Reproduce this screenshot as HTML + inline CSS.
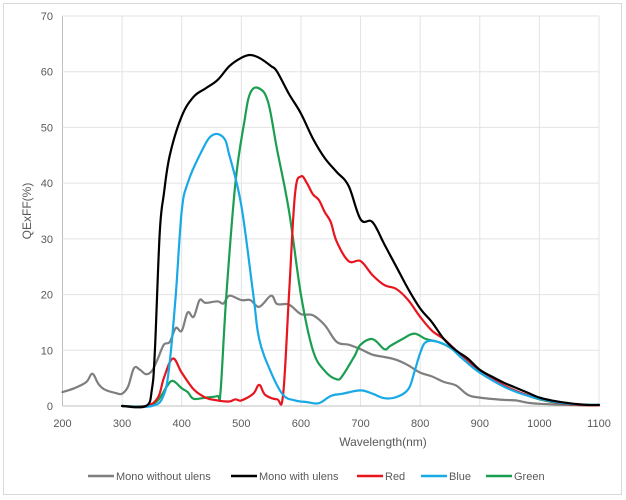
<!DOCTYPE html>
<html><head><meta charset="utf-8"><style>
body{margin:0;background:#fff;}
svg{display:block;font-family:"Liberation Sans",sans-serif;}
</style></head><body>
<svg id="chart" width="626" height="500" viewBox="0 0 626 500">
<rect x="3.5" y="3.5" width="618" height="491" fill="#fff" stroke="#d9d9d9"/>
<g id="grid"></g>
<g id="series"></g>
<g id="ticks"></g>
<text x="383" y="446" text-anchor="middle" font-size="12" fill="#595959">Wavelength(nm)</text>
<text transform="translate(31,211) rotate(-90)" text-anchor="middle" font-size="12" fill="#595959">QExFF(%)</text>
<g id="legend"></g>
</svg>
<script>
const xTicks=[200,300,400,500,600,700,800,900,1000,1100];
const yTicks=[0,10,20,30,40,50,60,70];
const grayX=[200,220,240,250,260,270,290,300,310,320,330,340,350,360,370,380,390,400,410,420,430,440,460,470,480,500,515,530,550,560,580,600,620,640,660,680,700,720,740,760,780,800,820,840,860,880,900,940,960,980,1000,1050,1100];
const grayY=[2.5,3.2,4.3,5.8,4,3,2.3,2.2,3.5,6.8,6.5,5.7,6.3,8.5,11,11.5,14,13.5,16.8,16,19,18.5,18.8,18.4,19.8,19,19,17.8,19.8,18.3,18.2,16.5,16.3,14.5,11.5,11,10.2,9.2,8.8,8.3,7.3,6,5.3,4.3,3.7,2,1.5,1.1,1.0,0.6,0.4,0.2,0.1];
const blackX=[300,340,350,355,363,370,380,400,420,440,460,480,500,515,530,550,560,580,600,620,640,660,680,700,720,740,760,780,800,820,840,860,880,900,920,940,960,980,1000,1020,1050,1080,1100];
const blackY=[0,0,3,10,31,38,45,52,55.5,57,58.5,61,62.5,63,62.5,61,60,56,52.5,48,44.5,42,39.5,33.5,33,29,25,21,17.5,15,12,10,8.5,6.5,5.3,4.2,3.3,2.4,1.5,1,0.5,0.2,0.2];
const redX=[300,340,360,370,385,400,420,440,460,480,490,500,520,530,540,560,570,580,590,600,610,620,630,640,650,660,680,700,720,740,760,780,800,820,840,860,880,900,950,1000,1050,1100];
const redY=[0,0,1.5,5,8.5,6,3,1.5,1,0.8,1.2,1,2.2,3.8,2,1.2,2,20,38,41.2,40,38,37,34.8,33,29.5,26,26,23.5,21.7,21,19,16,13.5,12,10,8.2,6.3,3.2,1.3,0.3,0.1];
const blueX=[300,350,370,380,390,400,410,430,450,470,480,500,520,530,550,570,590,610,630,650,670,700,720,740,760,780,790,800,810,830,850,870,900,950,1000,1050,1100];
const blueY=[0,0,2,8,20,35,40,45,48.5,48.2,45,36,20,12,6,2,1,0.7,0.5,1.8,2.2,2.8,2.2,1.4,1.6,3,6,9.5,11.5,11.5,10.5,8.6,6,3,1.3,0.4,0.2];
const greenX=[300,340,360,375,385,400,410,420,440,460,465,475,490,505,515,530,545,560,580,600,620,640,660,670,690,700,720,740,750,770,790,810,830,850,870,900,950,1000,1050,1100];
const greenY=[0,0,1,3.5,4.5,3.2,2.5,1.3,1.5,1.8,2.5,20,40,51,56.2,57,54.5,46,35,20,10,6.3,4.8,5.5,9,11,12,10.2,10.8,12,13,12,11.5,10.5,9,6,3.2,1.2,0.3,0.1];
const seriesNames=["Mono without ulens","Mono with ulens","Red","Blue","Green"];
const NS="http://www.w3.org/2000/svg";
const x0=62.5,x1=599,y0=406,y1=16;
function sx(v){return x0+(v-200)/900*(x1-x0);}
function sy(v){return y0-v/70*(y0-y1);}
function smooth(pts){
  let d='M'+pts[0][0].toFixed(1)+','+pts[0][1].toFixed(1);
  const t=0.18;
  for(let i=0;i<pts.length-1;i++){
    const p0=pts[i-1]||pts[i],p1=pts[i],p2=pts[i+1],p3=pts[i+2]||p2;
    const c1x=p1[0]+(p2[0]-p0[0])*t,c1y=p1[1]+(p2[1]-p0[1])*t;
    const c2x=p2[0]-(p3[0]-p1[0])*t,c2y=p2[1]-(p3[1]-p1[1])*t;
    d+=' C'+c1x.toFixed(1)+','+c1y.toFixed(1)+' '+c2x.toFixed(1)+','+c2y.toFixed(1)+' '+p2[0].toFixed(1)+','+p2[1].toFixed(1);
  }
  return d;
}
const grid=document.getElementById('grid'),ticks=document.getElementById('ticks');
xTicks.forEach(t=>{
  const l=document.createElementNS(NS,'line');
  l.setAttribute('x1',sx(t));l.setAttribute('x2',sx(t));l.setAttribute('y1',y1);l.setAttribute('y2',y0);
  l.setAttribute('stroke',t===200?'#bfbfbf':'#e3e3e3');
  
  
  grid.appendChild(l);
  const tx=document.createElementNS(NS,'text');
  tx.setAttribute('x',sx(t));tx.setAttribute('y',427);tx.setAttribute('text-anchor','middle');
  tx.setAttribute('font-size','11');tx.setAttribute('fill','#595959');tx.textContent=t;
  
  
  ticks.appendChild(tx);
});
yTicks.forEach(t=>{
  const l=document.createElementNS(NS,'line');
  l.setAttribute('x1',x0);l.setAttribute('x2',x1);l.setAttribute('y1',sy(t));l.setAttribute('y2',sy(t));
  l.setAttribute('stroke',t===0?'#bfbfbf':'#e3e3e3');
  
  
  grid.appendChild(l);
  const tx=document.createElementNS(NS,'text');
  tx.setAttribute('x',53);tx.setAttribute('y',sy(t)+4);tx.setAttribute('text-anchor','end');
  tx.setAttribute('font-size','11');tx.setAttribute('fill','#595959');tx.textContent=t;
  
  
  ticks.appendChild(tx);
});
const sg=document.getElementById('series');
const defs=[[grayX,grayY,'#7f7f7f','mono-without-ulens-line'],[greenX,greenY,'#1a9e50','green-line'],[redX,redY,'#e8141e','red-line'],[blueX,blueY,'#18a9e6','blue-line'],[blackX,blackY,'#000000','mono-with-ulens-line']];
defs.forEach(d=>{
  const p=document.createElementNS(NS,'path');
  p.setAttribute('d',smooth(d[0].map((v,i)=>[sx(v),sy(d[1][i])])));
  p.setAttribute('fill','none');p.setAttribute('stroke',d[2]);p.setAttribute('stroke-width','2.2');
  p.setAttribute('stroke-linejoin','round');p.setAttribute('stroke-linecap','round');
  
  
  sg.appendChild(p);
});
const lg=document.getElementById('legend');
const lcol=['#7f7f7f','#000000','#e8141e','#18a9e6','#1a9e50'];
const lx=[88,231,357,421,486];
seriesNames.forEach((n,i)=>{
  const l=document.createElementNS(NS,'line');
  l.setAttribute('x1',lx[i]);l.setAttribute('x2',lx[i]+26);l.setAttribute('y1',476);l.setAttribute('y2',476);
  l.setAttribute('stroke',lcol[i]);l.setAttribute('stroke-width','2.5');
  
  
  lg.appendChild(l);
  const t=document.createElementNS(NS,'text');
  t.setAttribute('x',lx[i]+28);t.setAttribute('y',480);t.setAttribute('font-size','11');t.setAttribute('fill','#595959');
  t.textContent=n;
  
  
  lg.appendChild(t);
});
</script>
</body></html>
